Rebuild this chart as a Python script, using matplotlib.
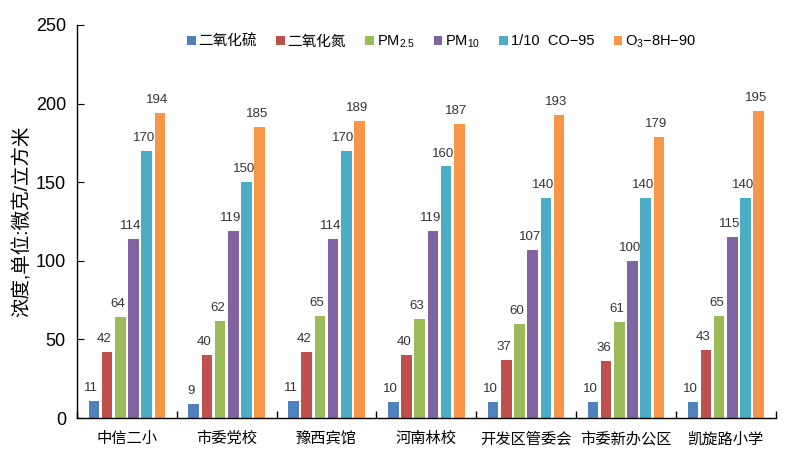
import matplotlib
matplotlib.use("Agg")
import matplotlib.pyplot as plt
import numpy as np

plt.rcParams["font.family"] = ["Liberation Sans", "Noto Sans CJK SC", "DejaVu Sans"]
plt.rcParams["axes.unicode_minus"] = True

sites = ["中信二小", "市委党校", "豫西宾馆", "河南林校", "开发区管委会", "市委新办公区", "凯旋路小学"]
so2 = [11, 9, 11, 10, 10, 10, 10]
no2 = [42, 40, 42, 40, 37, 36, 43]
pm25 = [64, 62, 65, 63, 60, 61, 65]
pm10 = [114, 119, 114, 119, 107, 100, 115]
co = [170, 150, 170, 160, 140, 140, 140]
o3 = [194, 185, 189, 187, 193, 179, 195]

series = [so2, no2, pm25, pm10, co, o3]
names = ["二氧化硫", "二氧化氮", "PM$_{\\mathregular{2.5}}$", "PM$_{\\mathregular{10}}$",
         "1/10  CO−95", "O$_{\\mathregular{3}}$−8H−90"]
colors = ["#4F81BD", "#C0504D", "#9BBB59", "#8064A2", "#4BACC6", "#F79646"]

fig = plt.figure(figsize=(7.98, 4.62), dpi=100)
ax = fig.add_axes([0.0965, 0.0952, 0.8755, 0.8508])

x = np.arange(len(sites))
pitch = 0.132
width = 0.106
for i, (vals, name, c) in enumerate(zip(series, names, colors)):
    pos = x + (i - 2.5) * pitch
    ax.bar(pos, vals, width=width, color=c, label=name)
    for p, v in zip(pos, vals):
        ax.annotate(str(v), (p, v), xytext=(-2, 5), textcoords="offset points",
                    ha="center", va="bottom", fontsize=9.5, color="#333333")

ax.set_xlim(-0.5, len(sites) - 0.5)
ax.set_ylim(0, 250)
ax.set_yticks(range(0, 251, 50))
ax.set_xticks(x)
ax.set_xticklabels(sites, fontsize=11)
ax.set_xticks(np.arange(-0.5, len(sites), 1), minor=True)
ax.tick_params(axis="x", which="major", length=0, pad=10)
ax.tick_params(axis="x", which="minor", direction="in", length=5, width=1)
ax.tick_params(axis="y", direction="in", length=5, labelsize=13, pad=8)

for s in ["top", "right"]:
    ax.spines[s].set_visible(False)
ax.spines["left"].set_linewidth(1)
ax.spines["bottom"].set_linewidth(1)

ax.set_ylabel("浓度,单位:微克/立方米", fontsize=14, labelpad=3)

ax.legend(loc="center", bbox_to_anchor=(0.522, 0.957), ncol=6, frameon=False,
          fontsize=10.5, handlelength=0.6, handleheight=0.6, handletextpad=0.2,
          columnspacing=1.3)

fig.savefig("out.png", dpi=100)
